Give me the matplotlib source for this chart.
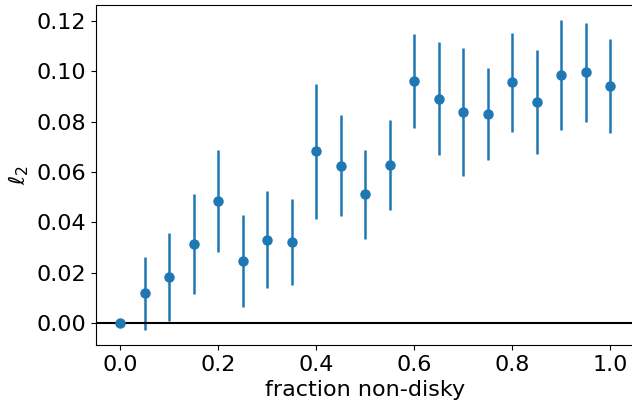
import numpy as np
import matplotlib
matplotlib.use("Agg")
import matplotlib.pyplot as plt

fraction = [0.0, 0.05, 0.1, 0.15, 0.2, 0.25, 0.3, 0.35, 0.4, 0.45, 0.5,
            0.55, 0.6, 0.65, 0.7, 0.75, 0.8, 0.85, 0.9, 0.95, 1.0]
l2 = [0.0, 0.0118, 0.0184, 0.0314, 0.0486, 0.0248, 0.0331, 0.0324, 0.0682, 0.0625, 0.0513,
      0.0629, 0.0961, 0.0892, 0.0840, 0.0832, 0.0956, 0.0879, 0.0985, 0.0997, 0.0943]
upper = [0.0, 0.0261, 0.0356, 0.0512, 0.0689, 0.0430, 0.0526, 0.0494, 0.0950, 0.0826, 0.0689,
         0.0808, 0.1148, 0.1118, 0.1093, 0.1014, 0.1153, 0.1086, 0.1205, 0.1194, 0.1128]
lower = [0.0, -0.0027, 0.0010, 0.0116, 0.0282, 0.0065, 0.0138, 0.0153, 0.0414, 0.0424, 0.0335,
         0.0450, 0.0775, 0.0666, 0.0585, 0.0648, 0.0759, 0.0670, 0.0767, 0.0800, 0.0757]

l2_a = np.array(l2)
yerr = [l2_a - np.array(lower), np.array(upper) - l2_a]

plt.rcParams['font.family'] = ['DejaVu Sans']
fig = plt.figure(figsize=(6.32, 4.04), dpi=100)
ax = fig.add_axes([96/632, (404-345)/404, (634.5-96)/632, (345-4.7)/404])

ax.errorbar(fraction, l2, yerr=yerr, fmt='o', color='#1f77b4', markersize=6.5,
            elinewidth=1.8, capsize=0)
ax.axhline(0, color='black', linewidth=1.5)

ax.set_xlim(-0.05, 1.05)
ax.set_ylim(-0.0087, 0.1265)
ax.set_xticks([0.0, 0.2, 0.4, 0.6, 0.8, 1.0])
ax.set_yticks([0.0, 0.02, 0.04, 0.06, 0.08, 0.10, 0.12])
ax.set_yticklabels(['0.00', '0.02', '0.04', '0.06', '0.08', '0.10', '0.12'])
ax.tick_params(labelsize=16)
ax.set_xlabel('fraction non-disky', fontsize=16)
ax.set_ylabel(r'$\ell_2$', fontsize=16)

fig.savefig('out.png', dpi=100)
